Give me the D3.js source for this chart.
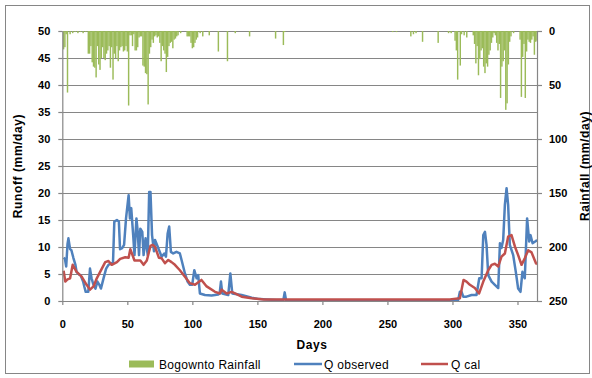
<!DOCTYPE html>
<html>
<head>
<meta charset="utf-8">
<script src="https://cdn.jsdelivr.net/npm/d3@7"></script>
<style>
  body { margin: 0; background: #fff; }
  svg { display: block; font-family: 'Liberation Sans', Arial, sans-serif; }
  .tick text { font-size: 11px; font-weight: bold; fill: #000; }
  .label { font-size: 12px; font-weight: bold; fill: #000; letter-spacing: 0.6px; }
  .legend { font-size: 12px; fill: #000; letter-spacing: 0.3px; }
</style>
</head>
<body>
<svg id="chart" width="592" height="378"></svg>
<script>
// daily rainfall (only rainy days), mm/day
var rainDay = [1, 2, 3, 4, 6, 8, 10, 12, 14, 16, 18,
  20, 21, 22, 23, 24, 25, 26, 27, 28, 29, 30, 31, 32, 33, 34, 35, 36, 37, 38, 39, 40,
  41, 42, 43, 44, 45, 46, 47, 48, 49, 50, 51, 52, 53, 54, 55, 56, 57, 58, 59, 60,
  61, 62, 63, 64, 65, 66, 67, 68, 69, 70, 71, 72, 73, 74, 75, 76, 77, 78, 79, 80,
  81, 82, 83, 84, 85, 86, 87, 88, 89, 91, 96, 97, 98, 99, 100, 101, 102, 103, 104, 106,
  108, 113, 120, 127, 133, 144, 164, 170, 171, 254, 257, 268, 270, 272, 277, 289, 297,
  299, 302, 303, 304, 306, 307, 309, 311, 316, 317, 318, 319, 320, 321, 322, 323, 324, 325,
  326, 327, 328, 329, 330, 331, 332, 333, 334, 335, 336, 337, 338, 339, 340, 341, 342, 343,
  344, 345, 347, 352, 353, 354, 355, 356, 357, 358, 359, 360, 361, 362, 363, 364, 365];
var rainMm = [17, 15, 3, 57, 3, 2, 1, 2, 1, 2, 1,
  21, 21, 14, 29, 33, 34, 43, 14, 31, 36, 25, 15, 25, 27, 21, 18, 14, 34, 15, 45, 21,
  25, 14, 28, 18, 15, 14, 19, 18, 14, 19, 69, 4, 4, 14, 3, 18, 18, 15, 6, 5,
  5, 32, 33, 39, 40, 68, 21, 15, 8, 11, 5, 4, 6, 5, 11, 28, 14, 18, 21, 38,
  24, 14, 11, 10, 16, 8, 7, 5, 4, 2, 5, 5, 5, 11, 16, 15, 11, 8, 6, 2,
  5, 4, 19, 28, 2, 5, 7, 13, 1, 1, 1, 5, 3, 2, 10, 11, 2,
  2, 9, 18, 45, 32, 3, 4, 6, 4, 12, 30, 14, 41, 26, 18, 16, 33, 39,
  30, 33, 22, 18, 11, 6, 2, 4, 11, 18, 12, 62, 33, 28, 18, 73, 67, 31,
  10, 5, 2, 8, 61, 24, 12, 62, 19, 8, 10, 11, 8, 5, 22, 10, 9];

// observed runoff, mm/day
var obsDay = [1, 2, 3, 4, 4.7, 6, 7, 8.5, 10, 11, 13, 14, 16, 17, 18, 20, 21.3, 22.5, 24, 25.5,
  27, 28.5, 29.7, 31.7, 33.7, 35.5, 38, 39, 40, 42, 43.5, 44.4, 46, 47.5, 49, 51, 52, 53,
  54.5, 55.5, 57, 58, 59, 60, 61.5, 62.5, 64, 65.7, 66.8, 67.8, 69, 70.5, 71.3, 73.3, 76.4,
  78.4, 79.7, 81, 82.2, 83.5, 85.3, 87.8, 90.4, 91.7, 94.3, 96.3, 98.1, 99.9, 101.5, 103.3,
  104.5, 105.8, 109.7, 114.8, 119.9, 121, 122, 123, 127.6, 129.2, 130.7, 137.9, 145.6, 150,
  157, 165, 170, 171, 172, 180, 200, 220, 240, 260, 280, 300, 304.4, 305.7, 307, 308.3,
  310.8, 314.7, 318.5, 320.6, 322.4, 323.7, 325, 326.2, 327.5, 330.1, 332.6, 335.2, 336.5,
  337.7, 339, 340.3, 341.6, 342.8, 344.1, 346.7, 348.7, 350.5, 352.3, 353.8, 355.6, 357.4,
  359, 360, 361.6, 364.2, 365];
var obsQ = [8.0, 7.8, 6.4, 10.5, 11.6, 9.6, 9.4, 8.0, 6.8, 5.4, 4.9, 4.8, 3.6, 2.6, 1.7, 1.7, 6.0, 4.2, 3.0, 2.3,
  3.6, 3.0, 2.3, 4.2, 6.0, 6.7, 7.0, 7.2, 14.7, 15.0, 14.7, 9.6, 9.8, 10.4, 15.3, 19.6, 15.3, 17.2,
  12.2, 8.5, 15.3, 12.8, 8.5, 13.4, 12.8, 8.5, 11.6, 8.5, 20.2, 20.2, 12.2, 9.2, 11.3, 10.1, 8.2,
  8.8, 8.2, 12.5, 13.8, 9.1, 8.8, 9.1, 8.8, 7.6, 5.1, 3.6, 3.0, 3.0, 5.7, 4.2,
  4.8, 1.4, 1.1, 1.0, 1.2, 1.4, 3.6, 1.4, 1.1, 5.1, 1.4, 1.1, 0.6, 0.4,
  0.3, 0.2, 0.2, 1.6, 0.2, 0.1, 0.1, 0.1, 0.1, 0.1, 0.1, 0.1, 0.2, 1.7, 1.7, 0.8,
  0.8, 1.1, 1.1, 4.2, 4.2, 12.2, 12.8, 10.4, 4.8, 3.6, 3.0, 2.4, 10.7,
  9.8, 11.3, 17.8, 20.9, 17.8, 10.4, 8.5, 5.4, 2.3, 1.7, 5.4, 4.2, 15.3,
  11.0, 12.2, 10.7, 11.1, 11.3];

// calculated runoff, mm/day
var calDay = [1, 2.3, 4, 6, 8, 11, 14.9, 18.7, 21.3, 24, 26.5, 30.4, 33, 35.5, 38, 42, 44.5, 48.4,
  51, 52.3, 55.5, 60, 62.5, 65, 67.8, 69.5, 71.3, 74.3, 76.4, 79, 81.5, 84, 86.6, 90.4, 94.3,
  98.1, 102, 107, 111, 117.4, 121.2, 122.5, 126.4, 130.2, 132.8, 137.9, 145.6, 155, 200, 250,
  298, 305.7, 308.5, 310.8, 313.4, 317.2, 320.5, 323.7, 327.5, 330.1, 332.6, 335.2, 337.7, 340.3,
  342.8, 345.4, 348, 350.5, 353.1, 355.6, 358.2, 360.8, 364.2, 365];
var calQ = [5.6, 3.6, 4.0, 4.2, 6.7, 5.4, 4.5, 3.0, 2.1, 2.7, 4.2, 6.0, 7.2, 7.4, 6.7, 7.2, 7.8, 8.1,
  8.0, 9.6, 7.5, 7.5, 6.7, 7.5, 10.2, 10.4, 10.0, 8.0, 7.9, 7.0, 7.6, 7.2, 6.7, 5.7, 4.5,
  3.3, 3.0, 3.9, 2.7, 1.7, 1.4, 2.1, 1.4, 1.7, 1.4, 0.8, 0.5, 0.3, 0.3, 0.3,
  0.3, 0.5, 3.9, 3.6, 3.0, 2.4, 1.4, 3.6, 5.7, 6.7, 6.9, 6.4, 8.2, 8.8,
  11.9, 12.2, 10.1, 8.5, 6.7, 7.9, 9.4, 9.0, 7.0, 6.8];

var runoffTicks = d3.range(0, 55, 5);
var rainTicks = [0, 50, 100, 150, 200, 250];
var dayTicks = [0, 50, 100, 150, 200, 250, 300, 350];

var svg = d3.select('#chart');
var plotL = 62.3, plotR = 537, plotT = 31, plotB = 301;
var gray = '#868686';

// outer frame
svg.append('rect')
  .attr('x', 5.5).attr('y', 5.5)
  .attr('width', 584).attr('height', 368)
  .attr('fill', 'none')
  .attr('stroke', gray)
  .attr('stroke-width', 1);

var x = d3.scaleLinear().domain([0, 365]).range([plotL, plotR]);
var yL = d3.scaleLinear().domain([0, 50]).range([plotB, plotT]);
var yR = d3.scaleLinear().domain([0, 250]).range([plotT, plotB]);
var barW = x(1) - x(0) + 0.15;

// gridlines
svg.append('g')
  .attr('class', 'grid')
  .attr('transform', 'translate(' + plotL + ',0)')
  .call(d3.axisLeft(yL).tickValues(runoffTicks).tickSize(-(plotR - plotL)).tickFormat(''))
  .call(function (g) {
    g.select('.domain').remove();
    g.selectAll('line').attr('stroke', gray).attr('stroke-width', 1.2);
  });

// rainfall bars hanging from the top
svg.append('g')
  .selectAll('rect')
  .data(rainDay)
  .enter()
  .append('rect')
  .attr('x', function (d) { return x(d) - barW / 2; })
  .attr('y', plotT)
  .attr('width', barW)
  .attr('height', function (d, i) { return yR(rainMm[i]) - plotT; })
  .attr('fill', '#9BBB59');

// runoff lines
var line = d3.line()
  .x(function (d) { return x(d[0]); })
  .y(function (d) { return yL(d[1]); });

svg.append('path')
  .datum(obsDay.map(function (d, i) { return [d, obsQ[i]]; }))
  .attr('d', line)
  .attr('fill', 'none')
  .attr('stroke', '#4F81BD')
  .attr('stroke-width', 2.5)
  .attr('stroke-linejoin', 'round');

svg.append('path')
  .datum(calDay.map(function (d, i) { return [d, calQ[i]]; }))
  .attr('d', line)
  .attr('fill', 'none')
  .attr('stroke', '#C0504D')
  .attr('stroke-width', 2.5)
  .attr('stroke-linejoin', 'round');

// axes
function styleAxis(g) {
  g.select('.domain').attr('stroke', gray).attr('stroke-width', 1.2);
  g.selectAll('.tick line').attr('stroke', gray).attr('stroke-width', 1.2);
  g.selectAll('.tick text').attr('font-family', null).attr('font-size', null);
}

svg.append('g')
  .attr('transform', 'translate(' + plotL + ',0)')
  .call(d3.axisLeft(yL).tickValues(runoffTicks).tickSize(4).tickSizeOuter(0).tickPadding(8))
  .call(styleAxis);

svg.append('g')
  .attr('transform', 'translate(' + plotR + ',0)')
  .call(d3.axisRight(yR).tickValues(rainTicks).tickSize(5).tickSizeOuter(0).tickPadding(7))
  .call(styleAxis);

svg.append('g')
  .attr('transform', 'translate(0,' + plotB + ')')
  .call(d3.axisBottom(x).tickValues(dayTicks).tickSize(4).tickSizeOuter(0).tickPadding(15))
  .call(styleAxis);

// axis titles
svg.append('text')
  .attr('class', 'label')
  .attr('transform', 'translate(22,' + (plotT + plotB) / 2 + ') rotate(-90)')
  .attr('text-anchor', 'middle')
  .text('Runoff (mm/day)');

svg.append('text')
  .attr('class', 'label')
  .attr('transform', 'translate(589,' + (plotT + plotB) / 2 + ') rotate(-90)')
  .attr('text-anchor', 'middle')
  .text('Rainfall (mm/day)');

svg.append('text')
  .attr('class', 'label')
  .attr('x', 312)
  .attr('y', 349)
  .attr('text-anchor', 'middle')
  .text('Days');

// legend
var legY = 364;
svg.append('rect')
  .attr('x', 129).attr('y', legY - 3.5)
  .attr('width', 25).attr('height', 7)
  .attr('fill', '#9BBB59');
svg.append('text').attr('class', 'legend')
  .attr('x', 159).attr('y', legY + 4.5).text('Bogowntо Rainfall');

svg.append('line')
  .attr('x1', 294).attr('x2', 322).attr('y1', legY).attr('y2', legY)
  .attr('stroke', '#4F81BD').attr('stroke-width', 2.5);
svg.append('text').attr('class', 'legend')
  .attr('x', 324).attr('y', legY + 4.5).text('Q observed');

svg.append('line')
  .attr('x1', 421).attr('x2', 448).attr('y1', legY).attr('y2', legY)
  .attr('stroke', '#C0504D').attr('stroke-width', 2.5);
svg.append('text').attr('class', 'legend')
  .attr('x', 451).attr('y', legY + 4.5).text('Q cal');
</script>
</body>
</html>
